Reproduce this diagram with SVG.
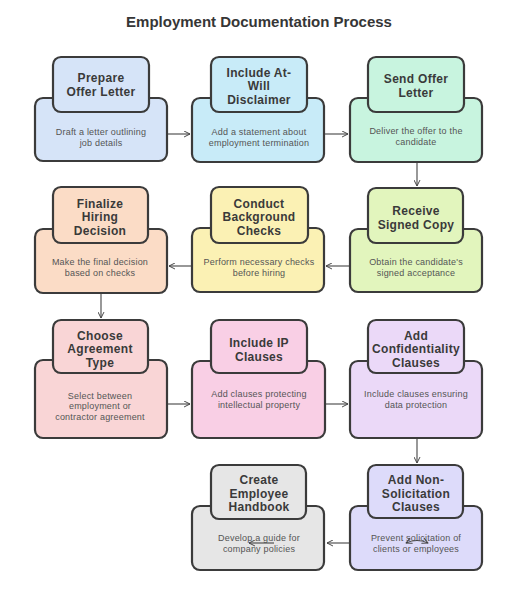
<svg xmlns="http://www.w3.org/2000/svg" width="519" height="594" viewBox="0 0 519 594">
<defs>
<marker id="ah" viewBox="0 0 10 10" refX="9" refY="5" markerWidth="7" markerHeight="7" orient="auto-start-reverse" markerUnits="userSpaceOnUse">
<path d="M1,1 L9,5 L1,9" fill="none" stroke="#444" stroke-width="1.4" stroke-linecap="round" stroke-linejoin="round"/>
</marker>
<style>
.box{stroke:#3b3b3b;stroke-width:2.2}
.h{font-family:"Liberation Sans",Arial,sans-serif;font-weight:700;font-size:12px;letter-spacing:0.3px;fill:#3a3a3a;text-anchor:middle}
.d{font-family:"Liberation Sans",Arial,sans-serif;font-size:9px;letter-spacing:0.2px;fill:#555;text-anchor:middle}
.t{font-family:"Liberation Sans",Arial,sans-serif;font-weight:700;font-size:15px;fill:#363636;text-anchor:middle}
.c{fill:none;stroke:#444;stroke-width:1.1}
.blue{fill:#d6e4f8}.cyan{fill:#c8ebf8}.mint{fill:#c8f4df}
.peach{fill:#fbdcc6}.yellow{fill:#fbf1b4}.lime{fill:#e2f5bd}
.pink{fill:#f9d5d6}.magenta{fill:#f9cfe5}.lav{fill:#ebd9f8}
.gray{fill:#e6e6e6}.peri{fill:#dddbfa}
</style>
</defs>
<rect width="519" height="594" fill="#ffffff"/>
<text class="t" x="259" y="27">Employment Documentation Process</text>

<g id="connectors">
<line class="c" x1="167" y1="134" x2="190" y2="134" marker-end="url(#ah)"/>
<line class="c" x1="324" y1="134" x2="348" y2="134" marker-end="url(#ah)"/>
<line class="c" x1="417" y1="162" x2="417" y2="186" marker-end="url(#ah)"/>
<line class="c" x1="350" y1="266" x2="326" y2="266" marker-end="url(#ah)"/>
<line class="c" x1="192" y1="266" x2="169" y2="266" marker-end="url(#ah)"/>
<line class="c" x1="101" y1="293" x2="101" y2="318" marker-end="url(#ah)"/>
<line class="c" x1="167" y1="404" x2="190" y2="404" marker-end="url(#ah)"/>
<line class="c" x1="325" y1="404" x2="348" y2="404" marker-end="url(#ah)"/>
<line class="c" x1="417" y1="438" x2="417" y2="463" marker-end="url(#ah)"/>
<line class="c" x1="350" y1="543" x2="327" y2="543" marker-end="url(#ah)"/>
</g>

<g id="n1">
<rect class="box blue" x="35" y="98" width="132" height="63" rx="8"/>
<rect class="box blue" x="53" y="57" width="96" height="55" rx="8"/>
<text class="h" x="101" y="82">Prepare</text>
<text class="h" x="101" y="96">Offer Letter</text>
<text class="d" x="101" y="135">Draft a letter outlining</text>
<text class="d" x="101" y="145.5">job details</text>
</g>
<g id="n2">
<rect class="box cyan" x="192" y="98" width="132" height="64" rx="8"/>
<rect class="box cyan" x="211" y="57" width="96" height="55" rx="8"/>
<text class="h" x="259" y="76.5">Include At-</text>
<text class="h" x="259" y="90">Will</text>
<text class="h" x="259" y="103.5">Disclaimer</text>
<text class="d" x="259" y="135">Add a statement about</text>
<text class="d" x="259" y="145.5">employment termination</text>
</g>
<g id="n3">
<rect class="box mint" x="350" y="98" width="132" height="64" rx="8"/>
<rect class="box mint" x="368" y="57" width="96" height="55" rx="8"/>
<text class="h" x="416" y="83">Send Offer</text>
<text class="h" x="416" y="97">Letter</text>
<text class="d" x="416" y="134">Deliver the offer to the</text>
<text class="d" x="416" y="144.5">candidate</text>
</g>

<g id="n4">
<rect class="box lime" x="350" y="229" width="132" height="63" rx="8"/>
<rect class="box lime" x="368" y="188" width="95" height="55" rx="8"/>
<text class="h" x="416" y="215">Receive</text>
<text class="h" x="416" y="229">Signed Copy</text>
<text class="d" x="416" y="265">Obtain the candidate's</text>
<text class="d" x="416" y="275.5">signed acceptance</text>
</g>
<g id="n5">
<rect class="box yellow" x="192" y="228" width="132" height="64" rx="8"/>
<rect class="box yellow" x="211" y="187" width="97" height="56" rx="8"/>
<text class="h" x="259" y="207.5">Conduct</text>
<text class="h" x="259" y="221">Background</text>
<text class="h" x="259" y="234.5">Checks</text>
<text class="d" x="259" y="265">Perform necessary checks</text>
<text class="d" x="259" y="275.5">before hiring</text>
</g>
<g id="n6">
<rect class="box peach" x="35" y="229" width="132" height="64" rx="8"/>
<rect class="box peach" x="53" y="187" width="95" height="56" rx="8"/>
<text class="h" x="100" y="207.5">Finalize</text>
<text class="h" x="100" y="221">Hiring</text>
<text class="h" x="100" y="234.5">Decision</text>
<text class="d" x="100" y="265">Make the final decision</text>
<text class="d" x="100" y="275.5">based on checks</text>
</g>

<g id="n7">
<rect class="box pink" x="35" y="360" width="132" height="78" rx="8"/>
<rect class="box pink" x="53" y="320" width="95" height="53" rx="8"/>
<text class="h" x="100" y="339.5">Choose</text>
<text class="h" x="100" y="353">Agreement</text>
<text class="h" x="100" y="366.5">Type</text>
<text class="d" x="100" y="398.5">Select between</text>
<text class="d" x="100" y="409">employment or</text>
<text class="d" x="100" y="419.5">contractor agreement</text>
</g>
<g id="n8">
<rect class="box magenta" x="192" y="361" width="133" height="77" rx="8"/>
<rect class="box magenta" x="211" y="320" width="96" height="53" rx="8"/>
<text class="h" x="259" y="347">Include IP</text>
<text class="h" x="259" y="361">Clauses</text>
<text class="d" x="259" y="397">Add clauses protecting</text>
<text class="d" x="259" y="407.5">intellectual property</text>
</g>
<g id="n9">
<rect class="box lav" x="350" y="361" width="132" height="77" rx="8"/>
<rect class="box lav" x="368" y="320" width="96" height="53" rx="8"/>
<text class="h" x="416" y="339.5">Add</text>
<text class="h" x="416" y="353">Confidentiality</text>
<text class="h" x="416" y="366.5">Clauses</text>
<text class="d" x="416" y="397">Include clauses ensuring</text>
<text class="d" x="416" y="407.5">data protection</text>
</g>

<g id="n10">
<rect class="box peri" x="350" y="506" width="132" height="64" rx="8"/>
<rect class="box peri" x="368" y="465" width="95" height="53" rx="8"/>
<text class="h" x="416" y="484">Add Non-</text>
<text class="h" x="416" y="497.5">Solicitation</text>
<text class="h" x="416" y="511">Clauses</text>
<text class="d" x="416" y="541">Prevent solicitation of</text>
<text class="d" x="416" y="551.5">clients or employees</text>
</g>
<g id="n11">
<rect class="box gray" x="192" y="506" width="132" height="64" rx="8"/>
<rect class="box gray" x="211" y="465" width="95" height="54" rx="8"/>
<text class="h" x="259" y="484">Create</text>
<text class="h" x="259" y="497.5">Employee</text>
<text class="h" x="259" y="511">Handbook</text>
<text class="d" x="259" y="541">Develop a guide for</text>
<text class="d" x="259" y="551.5">company policies</text>
</g>

<g id="connector-marks">
<path class="c" d="M406,543 Q417,538 428,543" marker-start="url(#ah)" marker-end="url(#ah)"/>
<line class="c" x1="274" y1="543" x2="249" y2="543" marker-end="url(#ah)"/>
</g>
</svg>
